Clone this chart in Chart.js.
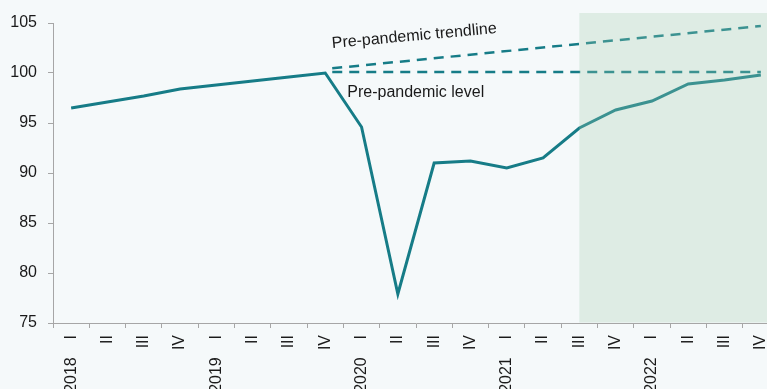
<!DOCTYPE html>
<html>
<head>
<meta charset="utf-8">
<script src="https://cdn.jsdelivr.net/npm/chart.js@4/dist/chart.umd.min.js"></script>
<style>
  html, body { margin: 0; padding: 0; background: #f5f9fa; overflow: hidden; width: 767px; height: 389px; }
  canvas { display: block; }
</style>
</head>
<body>
<canvas id="c" width="781" height="389"></canvas>
<script>
// ---- data ----
const years = ["2018", "2019", "2020", "2021", "2022"];
const quarters = ["I", "II", "III", "IV"];
const gdpIndex = [96.5, 97.1, 97.7, 98.4, 98.8, 99.2, 99.6, 100.0,
                  94.6, 77.9, 91.0, 91.2, 90.5, 91.5, 94.5, 96.3,
                  97.2, 98.9, 99.3, 99.8];
const trendlineEnds = [100.4, 104.7];   // 2019 IV -> 2022 IV
const levelEnds = [100.1, 100.1];       // 2019 IV -> 2022 IV
const yTicks = [75, 80, 85, 90, 95, 100, 105];
const trendLabel = "Pre-pandemic trendline";
const levelLabel = "Pre-pandemic level";
const forecastStart = "2021 III";

// ---- build labels ----
const labels = [];
const keys = [];
years.forEach(yr => quarters.forEach((q, i) => {
  labels.push(i === 0 ? yr + "    " + q : q);
  keys.push(yr + " " + q);
}));
const startIdx = keys.indexOf("2019 IV");
const endIdx = keys.length - 1;
function segment(ends) {
  return labels.map((_, i) => i === startIdx ? ends[0] : (i === endIdx ? ends[1] : null));
}

const TEAL = '#167c87';
const FONT = '"Liberation Sans", Arial, sans-serif';

const overlayPlugin = {
  id: 'overlay',
  afterDatasetsDraw(chart) {
    const { ctx, chartArea, scales: { x, y } } = chart;
    const x0 = x.getPixelForValue(keys.indexOf(forecastStart));
    const y0 = y.getPixelForValue(106);
    ctx.save();
    ctx.fillStyle = 'rgba(160, 206, 174, 0.28)';
    ctx.fillRect(x0, y0, chart.width - x0, chartArea.bottom - 0.5 - y0);

    ctx.fillStyle = '#1a1a1a';
    ctx.font = '16px ' + FONT;
    ctx.textBaseline = 'alphabetic';
    ctx.textAlign = 'left';
    // trendline label
    const tx = x.getPixelForValue(startIdx) + 7;
    const ty = y.getPixelForValue(102.5);
    ctx.save();
    ctx.translate(tx, ty);
    ctx.rotate(-5.2 * Math.PI / 180);
    ctx.fillText(trendLabel, 0, 0);
    ctx.restore();
    // level label
    ctx.fillText(levelLabel, x.getPixelForValue(startIdx) + 22, y.getPixelForValue(97.6));
    ctx.restore();
  }
};

new Chart(document.getElementById('c'), {
  type: 'line',
  data: {
    labels: labels,
    datasets: [
      {
        data: gdpIndex,
        borderColor: TEAL,
        borderWidth: 3,
        pointRadius: 0,
        tension: 0,
        borderJoinStyle: 'miter'
      },
      {
        data: segment(trendlineEnds),
        borderColor: TEAL,
        borderWidth: 2.5,
        borderDash: [10, 7],
        borderDashOffset: 10,
        pointRadius: 0,
        spanGaps: true
      },
      {
        data: segment(levelEnds),
        borderColor: TEAL,
        borderWidth: 2.5,
        borderDash: [10, 7],
        borderDashOffset: 10,
        pointRadius: 0,
        spanGaps: true
      }
    ]
  },
  options: {
    responsive: false,
    animation: false,
    layout: { padding: { top: 23, right: 2, left: 0, bottom: 0 } },
    plugins: { legend: { display: false }, tooltip: { enabled: false } },
    scales: {
      x: {
        offset: true,
        grid: { drawOnChartArea: false, drawTicks: true, tickLength: 5, color: '#a6a6a6', offset: true },
        border: { color: '#a6a6a6', width: 1 },
        ticks: {
          autoSkip: false, minRotation: 90, maxRotation: 90, padding: 7,
          color: '#1a1a1a', font: { family: FONT, size: 16 }
        },
        afterFit(s) { s.height = 66; s.paddingLeft = 0; s.paddingRight = 0; }
      },
      y: {
        min: 75, max: 105,
        afterBuildTicks(s) { s.ticks = yTicks.map(v => ({ value: v })); },
        grid: { drawOnChartArea: false, drawTicks: true, tickLength: 5, color: '#a6a6a6' },
        border: { color: '#a6a6a6', width: 1 },
        ticks: { padding: 11, color: '#1a1a1a', font: { family: FONT, size: 16 } },
        afterFit(s) { s.width = 53; }
      }
    }
  },
  plugins: [overlayPlugin]
});
</script>
</body>
</html>
